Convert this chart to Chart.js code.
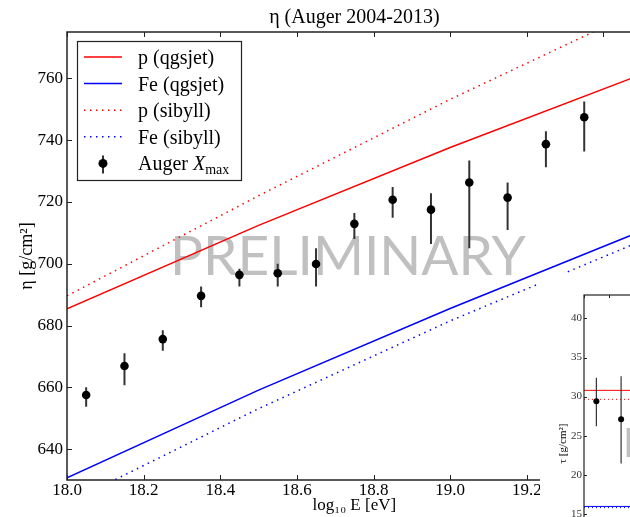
<!DOCTYPE html>
<html lang="en">
<head>
<meta charset="UTF-8">
<title>eta (Auger 2004-2013)</title>
<script src="https://cdn.jsdelivr.net/npm/chart.js@4.4.1/dist/chart.umd.min.js"></script>
<style>
  html, body { margin: 0; padding: 0; background: #fff; }
  #wrap { position: relative; width: 630px; height: 517px; overflow: hidden; }
  #main { position: absolute; left: 0; top: 0; }
  #inset { position: absolute; left: 540px; top: 273px; background: #fff; }
</style>
</head>
<body>
<div id="wrap">
  <canvas id="main" width="646" height="517"></canvas>
  <canvas id="inset" width="419" height="349"></canvas>
</div>
<script>
// model predictions for eta, read at these energies
const modelE = [18.0, 18.5, 19.0, 19.5];
const pQgsjet = [685.4, 712.4, 737.6, 761.3];
const feQgsjet = [630.7, 659.1, 685.5, 710.6];
const pSibyll = [689.6, 722.0, 753.2, 782.4];
const feSibyll = [622.4, 653.1, 681.5, 707.4];

// Auger Xmax bins (eta) with upper / lower errors
const augerE = [18.05, 18.15, 18.25, 18.35, 18.45, 18.55, 18.65, 18.75, 18.85, 18.95, 19.05, 19.15, 19.25, 19.35];
const augerEta = [657.5, 666.9, 675.6, 689.6, 696.4, 696.9, 699.9, 712.9, 720.7, 717.5, 726.3, 721.4, 738.7, 747.4];
const augerUp = [2.5, 4.1, 2.9, 3.0, 2.0, 3.1, 5.1, 3.5, 4.1, 5.3, 7.1, 4.9, 4.2, 5.1];
const augerDown = [3.8, 6.2, 3.8, 3.7, 3.8, 4.3, 7.3, 4.9, 5.8, 11.1, 21.3, 10.5, 7.5, 11.1];

// inset: tau
const insetModelE = [18.0, 19.5];
const tauPQgsjet = [30.8, 30.8];
const tauPSibyll = [29.65, 29.65];
const tauFeQgsjet = [15.95, 15.95];
const tauFeSibyll = [15.8, 15.8];
const insetE = [18.05, 18.15];
const insetTau = [29.4, 27.1];
const insetUp = [3.0, 5.5];
const insetDown = [3.2, 5.65];

const SERIF = '"Liberation Serif", "Times New Roman", serif';

function pts(xs, ys) {
    return xs.map((x, i) => ({x: x, y: ys[i]}));
}

function line(ctx, x1, y1, x2, y2) {
    ctx.beginPath();
    ctx.moveTo(x1, y1);
    ctx.lineTo(x2, y2);
    ctx.stroke();
}

// watermark, error bars, frame with inward ticks, boxed legend
const decoPlugin = {
    id: 'deco',
    beforeDatasetsDraw(chart, args, o) {
        if (!o.mark) return;
        const {ctx, chartArea: a} = chart;
        ctx.save();
        ctx.fillStyle = '#c0c0c0';
        ctx.font = o.mark.font;
        ctx.textBaseline = 'alphabetic';
        ctx.fillText('PRELIMINARY', a.left + o.mark.dx, a.top + o.mark.dy);
        ctx.restore();
    },
    beforeDatasetDraw(chart, args, o) {
        const ds = chart.data.datasets[args.index];
        if (!ds.errUp) return;
        const {ctx, chartArea: a, scales: {x, y}} = chart;
        ctx.save();
        ctx.beginPath();
        ctx.rect(a.left, a.top, a.width, a.height);
        ctx.clip();
        ctx.strokeStyle = '#333';
        ctx.lineWidth = o.barWidth;
        ds.data.forEach((p, i) => {
            const px = x.getPixelForValue(p.x);
            line(ctx, px, y.getPixelForValue(p.y + ds.errUp[i]), px, y.getPixelForValue(p.y - ds.errDown[i]));
        });
        ctx.restore();
    },
    afterDatasetsDraw(chart, args, o) {
        const {ctx, chartArea: a, scales: {x, y}} = chart;
        ctx.save();
        ctx.strokeStyle = '#222';
        ctx.lineWidth = o.frameWidth;
        ctx.strokeRect(a.left, a.top, a.width, a.height);
        ctx.lineWidth = 1;
        const len = o.tickLen;
        x.ticks.forEach(t => {
            const px = Math.round(x.getPixelForValue(t.value)) + 0.5;
            line(ctx, px, a.bottom, px, a.bottom - len);
            line(ctx, px, a.top, px, a.top + len);
        });
        y.ticks.forEach(t => {
            const py = Math.round(y.getPixelForValue(t.value)) + 0.5;
            line(ctx, a.left, py, a.left + len, py);
            line(ctx, a.right, py, a.right - len, py);
        });
        ctx.restore();
        if (o.legend) drawLegend(chart);
    }
};

function drawLegend(chart) {
    const {ctx, chartArea: a} = chart;
    const bx = a.left + 10, by = a.top + 9, bw = 164, bh = 139;
    ctx.save();
    ctx.fillStyle = '#fff';
    ctx.fillRect(bx, by, bw, bh);
    ctx.strokeStyle = '#222';
    ctx.lineWidth = 1.2;
    ctx.strokeRect(bx + 0.5, by + 0.5, bw, bh);
    chart.data.datasets.forEach((ds, i) => {
        const cy = by + 16 + i * 26.6;
        if (ds.showLine === false) {
            ctx.strokeStyle = '#333';
            ctx.lineWidth = 2;
            ctx.setLineDash([]);
            line(ctx, bx + 26, cy - 8, bx + 26, cy + 10);
            ctx.fillStyle = '#000';
            ctx.beginPath();
            ctx.arc(bx + 26, cy, 4.5, 0, Math.PI * 2);
            ctx.fill();
        } else {
            ctx.strokeStyle = ds.borderColor;
            ctx.lineWidth = ds.borderWidth;
            ctx.setLineDash(ds.borderDash || []);
            line(ctx, bx + 7, cy, bx + 45, cy);
        }
        ctx.setLineDash([]);
        ctx.fillStyle = '#000';
        ctx.textBaseline = 'alphabetic';
        let tx = bx + 61;
        const parts = ds.legendParts || [[ds.label, 'normal']];
        parts.forEach(([txt, style]) => {
            if (style === 'sub') {
                ctx.font = '14px ' + SERIF;
                ctx.fillText(txt, tx, cy + 11);
            } else {
                ctx.font = (style === 'italic' ? 'italic ' : '') + '20px ' + SERIF;
                ctx.fillText(txt, tx, cy + 7);
            }
            tx += ctx.measureText(txt).width;
        });
    });
    ctx.restore();
}

function lineSet(label, xs, ys, color, dash, width) {
    return {
        label: label,
        data: pts(xs, ys),
        borderColor: color,
        backgroundColor: color,
        borderWidth: width,
        borderDash: dash,
        pointRadius: 0,
        fill: false,
        tension: 0,
        order: 1
    };
}

const mainData = {
    datasets: [
        lineSet('p (qgsjet)', modelE, pQgsjet, '#ff0000', [], 1.5),
        lineSet('Fe (qgsjet)', modelE, feQgsjet, '#0000ff', [], 1.5),
        lineSet('p (sibyll)', modelE, pSibyll, '#ff0000', [1.5, 4.5], 1.5),
        lineSet('Fe (sibyll)', modelE, feSibyll, '#0000ff', [1.5, 4.5], 1.5),
        {
            label: 'Auger Xmax',
            legendParts: [['Auger ', 'normal'], ['X', 'italic'], ['max', 'sub']],
            data: pts(augerE, augerEta),
            errUp: augerUp,
            errDown: augerDown,
            showLine: false,
            pointRadius: 4.3,
            pointBackgroundColor: '#000',
            pointBorderColor: '#000',
            pointBorderWidth: 0,
            order: 0
        }
    ]
};

const mainChart = new Chart(document.getElementById('main'), {
    type: 'line',
    data: mainData,
    plugins: [decoPlugin],
    options: {
        responsive: false,
        animation: false,
        events: [],
        layout: {padding: 0},
        plugins: {
            legend: {display: false},
            tooltip: {enabled: false},
            title: {
                display: true,
                text: 'η (Auger 2004-2013)',
                fullSize: false,
                color: '#000',
                font: {family: SERIF, size: 20, weight: 'normal'},
                padding: {top: 6, bottom: 2}
            },
            deco: {
                legend: true,
                frameWidth: 1.5,
                tickLen: 5,
                barWidth: 2,
                mark: {font: '400 55px Lato', dx: 103, dy: 243}
            }
        },
        scales: {
            x: {
                type: 'linear',
                min: 18.0,
                max: 19.5,
                afterFit: s => { s.height = 37; },
                grid: {display: false, drawTicks: false},
                border: {display: false},
                ticks: {
                    stepSize: 0.2,
                    includeBounds: false,
                    autoSkip: false,
                    maxRotation: 0,
                    padding: 0,
                    color: '#000',
                    font: {family: SERIF, size: 17},
                    callback: v => v.toFixed(1)
                },
                title: {
                    display: true,
                    text: 'log₁₀ E [eV]',
                    color: '#000',
                    font: {family: SERIF, size: 17},
                    padding: {top: 0, bottom: 1.5}
                }
            },
            y: {
                type: 'linear',
                min: 630,
                max: 775,
                afterFit: s => { s.width = 67; },
                grid: {display: false, drawTicks: false},
                border: {display: false},
                ticks: {
                    stepSize: 20,
                    includeBounds: false,
                    padding: 4,
                    color: '#000',
                    font: {family: SERIF, size: 17}
                },
                title: {
                    display: true,
                    text: 'η [g/cm²]',
                    color: '#000',
                    font: {family: SERIF, size: 18},
                    padding: {top: 16, bottom: 0}
                }
            }
        }
    }
});

// inset (tau), partly outside the picture
const insetChart = new Chart(document.getElementById('inset'), {
    type: 'line',
    data: {
        datasets: [
            lineSet('p (qgsjet)', insetModelE, tauPQgsjet, '#ff0000', [], 1),
            lineSet('p (sibyll)', insetModelE, tauPSibyll, '#ff0000', [1, 3], 1),
            lineSet('Fe (qgsjet)', insetModelE, tauFeQgsjet, '#0000ff', [], 1),
            lineSet('Fe (sibyll)', insetModelE, tauFeSibyll, '#0000ff', [1, 3], 1),
            {
                label: 'Auger',
                data: pts(insetE, insetTau),
                errUp: insetUp,
                errDown: insetDown,
                showLine: false,
                pointRadius: 3,
                pointBackgroundColor: '#000',
                pointBorderWidth: 0,
                order: 0
            }
        ]
    },
    plugins: [decoPlugin],
    options: {
        responsive: false,
        animation: false,
        events: [],
        layout: {padding: {top: 22}},
        plugins: {
            legend: {display: false},
            tooltip: {enabled: false},
            deco: {
                legend: false,
                frameWidth: 1.2,
                tickLen: 3,
                barWidth: 1.2,
                mark: {font: '400 40px Lato', dx: 39, dy: 162}
            }
        },
        scales: {
            x: {
                type: 'linear',
                min: 18.0,
                max: 19.5,
                afterFit: s => { s.height = 30; },
                grid: {display: false, drawTicks: false},
                border: {display: false},
                ticks: {display: false, stepSize: 0.1}
            },
            y: {
                type: 'linear',
                min: 5,
                max: 43,
                afterFit: s => { s.width = 44; },
                grid: {display: false, drawTicks: false},
                border: {display: false},
                ticks: {
                    stepSize: 5,
                    includeBounds: false,
                    padding: 2,
                    color: '#333',
                    font: {family: SERIF, size: 11}
                },
                title: {
                    display: true,
                    text: 'τ [g/cm²]',
                    color: '#000',
                    font: {family: SERIF, size: 11},
                    padding: {top: 17, bottom: 0}
                }
            }
        }
    }
});
</script>
</body>
</html>
